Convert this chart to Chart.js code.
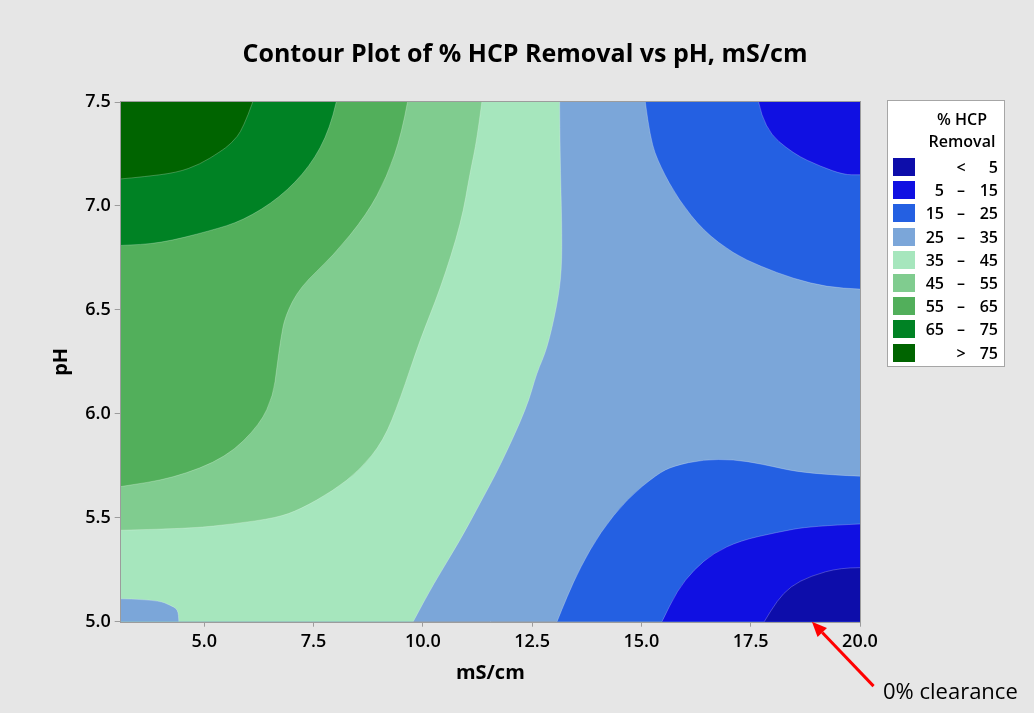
<!DOCTYPE html>
<html>
<head>
<meta charset="utf-8">
<script src="https://cdn.jsdelivr.net/npm/chart.js@4.4.1/dist/chart.umd.min.js"></script>
<style>
  html, body { margin: 0; padding: 0; background: #e6e6e6; }
  #wrap { position: relative; width: 1034px; height: 713px; font-family: 'Open Sans', sans-serif; color: #000; }
  #legend { position: absolute; left: 887px; top: 100px; width: 118px; height: 267px; background: #fff;
            border: 1px solid #a6a6a6; box-sizing: border-box; font-size: 16px; font-weight: 600; }
  #legend .ttl { position: absolute; left: 30px; width: 88px; text-align: center; line-height: 20px; }
  #legend .row { position: absolute; left: 0; width: 118px; height: 23px; line-height: 23px; }
  #legend .sw { position: absolute; left: 5px; top: 2px; width: 22px; height: 18px; }
  #legend .a { position: absolute; left: 0; width: 56px; text-align: right; }
  #legend .d { position: absolute; left: 62px; width: 22px; text-align: center; }
  #legend .b { position: absolute; left: 70px; width: 40px; text-align: right; }
  #note { position: absolute; left: 883px; top: 677px; font-size: 22px; line-height: 26px; white-space: nowrap; }
</style>
</head>
<body>
<div id="wrap">
  <canvas id="chart" width="1034" height="713"></canvas>
  <div id="legend"></div>
  <div id="note">0% clearance</div>
</div>
<script>
// ── Data ───────────────────────────────────────────────────────────────────
const xRange = [3.09, 20];          // mS/cm
const yRange = [5.0, 7.5];          // pH
const xTicks = [5, 7.5, 10, 12.5, 15, 17.5, 20];
const yTicks = [5, 5.5, 6, 6.5, 7, 7.5];

const levelLow    = [null, 5, 15, 25, 35, 45, 55, 65, 75];
const levelHigh   = [5, 15, 25, 35, 45, 55, 65, 75, null];
const levelColors = ['#0d0daa', '#1010e2', '#2460e2', '#7ba6d9', '#a6e6bd', '#80cc8f', '#52af5b', '#008224', '#006400'];

// contour lines as [mS/cm, pH], each running edge to edge
const edge35 = [[13.13,7.5],[13.14,7.24],[13.18,6.92],[13.18,6.69],[13.07,6.52],[12.84,6.31],[12.61,6.20],
                [12.38,6.03],[11.77,5.75],[11.31,5.57],[10.85,5.39],[10.24,5.18],[9.78,5.0]];
const edge45 = [[11.35,7.5],[11.24,7.32],[11.08,7.16],[10.88,6.92],[10.40,6.60],[9.94,6.36],[9.48,6.07],
                [9.10,5.87],[8.56,5.73],[7.95,5.63],[7.19,5.54],[6.66,5.50],[5.66,5.47],[4.75,5.45],[3.09,5.44]];
const edge55 = [[9.65,7.5],[9.52,7.35],[9.18,7.14],[8.72,6.96],[7.95,6.76],[7.19,6.61],[6.85,6.47],[6.75,6.36],
                [6.66,6.22],[6.58,6.09],[6.28,5.95],[5.51,5.79],[4.29,5.69],[3.09,5.65]];
const edge65 = [[8.02,7.5],[7.88,7.37],[7.42,7.19],[6.73,7.04],[5.89,6.93],[5.13,6.88],[3.99,6.82],[3.09,6.81]];
const edge75 = [[6.11,7.5],[5.89,7.37],[5.62,7.30],[5.36,7.26],[4.90,7.20],[4.37,7.16],[3.60,7.14],[3.09,7.13]];
const edgeBlob = [[3.09,5.11],[3.30,5.11],[3.99,5.10],[4.21,5.08],[4.40,5.06],[4.42,5.0]];
const edgeTR25 = [[15.09,7.5],[15.20,7.32],[15.43,7.19],[15.85,7.03],[16.42,6.88],[17.11,6.77],[17.72,6.71],
                  [18.48,6.65],[19.25,6.61],[20,6.60]];
const edgeTR15 = [[17.68,7.5],[17.81,7.37],[18.48,7.25],[19.10,7.19],[19.63,7.15],[20,7.15]];
const edgeBR25 = [[20,5.70],[18.79,5.71],[17.72,5.76],[17.11,5.78],[16.42,5.78],[15.74,5.75],[15.36,5.71],
                  [14.67,5.59],[14.06,5.43],[13.60,5.26],[13.30,5.12],[13.07,5.0]];
const edgeBR15 = [[20,5.47],[18.87,5.46],[18.10,5.43],[17.26,5.39],[16.65,5.33],[16.20,5.25],[15.82,5.15],[15.47,5.0]];
const edgeLt5  = [[20,5.26],[19.55,5.26],[18.87,5.22],[18.41,5.17],[18.10,5.10],[17.81,5.0]];

// painted in this order; the first band (25-35) is the whole plot
const regionEdges   = [[], edge35, edge45, edge55, edge65, edge75, edgeBlob, edgeTR25, edgeTR15, edgeBR25, edgeBR15, edgeLt5];
const regionLevel   = [3, 4, 5, 6, 7, 8, 3, 2, 1, 2, 1, 0];
const regionCorners = [['tl','tr','br','bl'], ['bl','tl'], ['tl'], ['tl'], ['tl'], ['tl'], ['bl'], ['tr'], ['tr'], ['br'], ['br'], ['br']];

const arrowTip  = [18.9, 5.0];
const arrowTail = [20.31, 4.69];

// ── Build ──────────────────────────────────────────────────────────────────
const corner = { tl: [xRange[0], yRange[1]], tr: [xRange[1], yRange[1]], bl: [xRange[0], yRange[0]], br: [xRange[1], yRange[0]] };

const datasets = regionEdges.map((edge, i) => ({
  data: edge.concat(regionCorners[i].map(c => corner[c])).map(([x, y]) => ({ x, y })),
  backgroundColor: levelColors[regionLevel[i]],
  edgeLen: edge.length,
  showLine: false,
  pointRadius: 0,
  pointHoverRadius: 0,
}));

// rounded path through the contour points (ends stay on the plot edge)
function tracePath(ctx, pts, n, start) {
  if (start) ctx.moveTo(pts[0].x, pts[0].y);
  for (let j = 1; j < n - 1; j++) {
    const p = pts[j], q = pts[j + 1];
    ctx.quadraticCurveTo(p.x, p.y, (p.x + q.x) / 2, (p.y + q.y) / 2);
  }
  if (n > 1) ctx.lineTo(pts[n - 1].x, pts[n - 1].y);
}

// fill each band polygon from the point positions the scales computed
const contourFill = {
  id: 'contourFill',
  beforeDatasetsDraw(chart) {
    const { ctx, chartArea: a } = chart;
    ctx.save();
    ctx.beginPath(); ctx.rect(a.left, a.top, a.width, a.height); ctx.clip();
    chart.data.datasets.forEach((ds, i) => {
      const pts = chart.getDatasetMeta(i).data;
      if (!pts.length) return;
      const n = ds.edgeLen;
      ctx.beginPath();
      if (n > 1) {
        tracePath(ctx, pts, n, true);
        for (let j = n; j < pts.length; j++) ctx.lineTo(pts[j].x, pts[j].y);
      } else {
        pts.forEach((p, j) => j ? ctx.lineTo(p.x, p.y) : ctx.moveTo(p.x, p.y));
      }
      ctx.closePath();
      ctx.fillStyle = ds.backgroundColor;
      ctx.fill();
      if (n > 1) {
        ctx.beginPath();
        tracePath(ctx, pts, n, true);
        ctx.strokeStyle = 'rgba(255,255,255,0.3)'; ctx.lineWidth = 0.8;
        ctx.stroke();
      }
    });
    ctx.restore();
  },
  afterDatasetsDraw(chart) {
    const { ctx, chartArea: a } = chart;
    ctx.save();
    ctx.strokeStyle = '#9c9c9c'; ctx.lineWidth = 1;
    ctx.strokeRect(Math.round(a.left) - 0.5, Math.round(a.top) - 0.5, Math.round(a.width) + 1, Math.round(a.height) + 1);
    ctx.restore();
  },
  afterDraw(chart) {
    const { ctx, scales: { x, y } } = chart;
    const tx = x.getPixelForValue(arrowTip[0]),  ty = y.getPixelForValue(arrowTip[1]);
    const sx = x.getPixelForValue(arrowTail[0]), sy = y.getPixelForValue(arrowTail[1]);
    const ang = Math.atan2(ty - sy, tx - sx), head = 15, half = 6.5;
    const bx = tx - Math.cos(ang) * head, by = ty - Math.sin(ang) * head;
    ctx.save();
    ctx.strokeStyle = ctx.fillStyle = '#ff0000';
    ctx.lineWidth = 3;
    ctx.beginPath(); ctx.moveTo(sx, sy); ctx.lineTo(bx, by); ctx.stroke();
    ctx.beginPath();
    ctx.moveTo(tx, ty);
    ctx.lineTo(bx + Math.sin(ang) * half, by - Math.cos(ang) * half);
    ctx.lineTo(bx - Math.sin(ang) * half, by + Math.cos(ang) * half);
    ctx.closePath(); ctx.fill();
    ctx.restore();
  }
};

const tickFont = { family: 'Open Sans', size: 18, weight: '600' };

new Chart(document.getElementById('chart'), {
  type: 'scatter',
  data: { datasets },
  plugins: [contourFill],
  options: {
    responsive: false,
    animation: false,
    events: [],
    layout: { padding: { left: 16, right: 0, top: 0, bottom: 28 } },
    plugins: {
      legend: { display: false },
      tooltip: { enabled: false },
      title: {
        display: true,
        text: 'Contour Plot of % HCP Removal vs pH, mS/cm',
        color: '#000',
        font: { family: 'Open Sans', size: 25, weight: 'bold', lineHeight: 1.2 },
        padding: { top: 40, bottom: 32 }
      }
    },
    scales: {
      x: {
        type: 'linear', position: 'bottom', min: xRange[0], max: xRange[1],
        afterBuildTicks: s => { s.ticks = xTicks.map(v => ({ value: v })); },
        afterFit: s => { s.height = 713 - 28 - 621.7; },
        ticks: { color: '#000', font: tickFont, padding: 4, maxRotation: 0, callback: v => Number(v).toFixed(1) },
        grid: { drawOnChartArea: false, tickLength: 5, color: '#9c9c9c' },
        border: { color: '#9c9c9c' },
        title: { display: true, text: 'mS/cm', color: '#000', font: { family: 'Open Sans', size: 20, weight: 'bold' }, padding: 0 }
      },
      y: {
        type: 'linear', position: 'left', min: yRange[0], max: yRange[1],
        afterBuildTicks: s => { s.ticks = yTicks.map(v => ({ value: v })); },
        afterFit: s => { s.width = 104.7; },
        ticks: { color: '#000', font: tickFont, padding: 4, callback: v => Number(v).toFixed(1) },
        grid: { drawOnChartArea: false, tickLength: 6, color: '#9c9c9c' },
        border: { color: '#9c9c9c' },
        title: { display: true, text: 'pH', color: '#000', font: { family: 'Open Sans', size: 20, weight: 'bold' }, padding: { top: 33, bottom: 0 } }
      },
      // empty right-hand axis keeps room for the legend so the title centres on the whole figure
      y2: {
        type: 'linear', position: 'right', min: 0, max: 1,
        afterFit: s => { s.width = 174; },
        ticks: { display: false },
        grid: { display: false },
        border: { display: false }
      }
    }
  }
});

// ── Legend ─────────────────────────────────────────────────────────────────
const legend = document.getElementById('legend');
legend.innerHTML = '<div class="ttl" style="top:8px">% HCP</div><div class="ttl" style="top:30px">Removal</div>';
levelColors.forEach((col, i) => {
  const lo = levelLow[i], hi = levelHigh[i];
  const parts = lo === null ? ['', '<', hi] : hi === null ? ['', '>', lo] : [lo, '–', hi];
  const row = document.createElement('div');
  row.className = 'row';
  row.style.top = (55 + i * 23.2) + 'px';
  row.innerHTML = `<span class="sw" style="background:${col}"></span>` +
    `<span class="a">${parts[0]}</span><span class="d">${parts[1]}</span><span class="b">${parts[2]}</span>`;
  legend.appendChild(row);
});
</script>
</body>
</html>
